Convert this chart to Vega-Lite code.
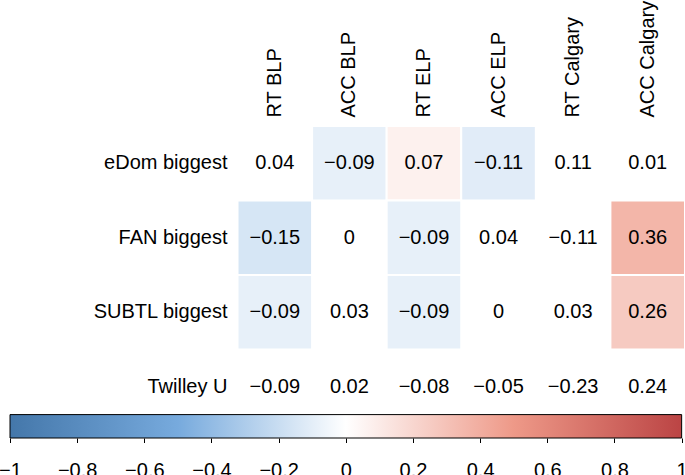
{
  "$schema": "https://vega.github.io/schema/vega-lite/v6.json",
  "autosize": {"type": "none"},
  "padding": {"left": 10, "top": 126, "right": 0, "bottom": 37},
  "width": 675,
  "height": 312,
  "background": "white",
  "config": {
    "view": {"stroke": null},
    "font": "Liberation Sans",
    "axis": {"labelFont": "Liberation Sans", "labelColor": "black", "labelFontSize": 20, "title": null, "grid": false}
  },
  "layer": [
    {
      "data": {
        "values": [
          {"row": "eDom biggest", "col": "RT BLP", "r": 0.04, "sig": false},
          {"row": "eDom biggest", "col": "ACC BLP", "r": -0.09, "sig": true},
          {"row": "eDom biggest", "col": "RT ELP", "r": 0.07, "sig": true},
          {"row": "eDom biggest", "col": "ACC ELP", "r": -0.11, "sig": true},
          {"row": "eDom biggest", "col": "RT Calgary", "r": 0.11, "sig": false},
          {"row": "eDom biggest", "col": "ACC Calgary", "r": 0.01, "sig": false},
          {"row": "FAN biggest", "col": "RT BLP", "r": -0.15, "sig": true},
          {"row": "FAN biggest", "col": "ACC BLP", "r": 0, "sig": false},
          {"row": "FAN biggest", "col": "RT ELP", "r": -0.09, "sig": true},
          {"row": "FAN biggest", "col": "ACC ELP", "r": 0.04, "sig": false},
          {"row": "FAN biggest", "col": "RT Calgary", "r": -0.11, "sig": false},
          {"row": "FAN biggest", "col": "ACC Calgary", "r": 0.36, "sig": true},
          {"row": "SUBTL biggest", "col": "RT BLP", "r": -0.09, "sig": true},
          {"row": "SUBTL biggest", "col": "ACC BLP", "r": 0.03, "sig": false},
          {"row": "SUBTL biggest", "col": "RT ELP", "r": -0.09, "sig": true},
          {"row": "SUBTL biggest", "col": "ACC ELP", "r": 0, "sig": false},
          {"row": "SUBTL biggest", "col": "RT Calgary", "r": 0.03, "sig": false},
          {"row": "SUBTL biggest", "col": "ACC Calgary", "r": 0.26, "sig": true},
          {"row": "Twilley U", "col": "RT BLP", "r": -0.09, "sig": false},
          {"row": "Twilley U", "col": "ACC BLP", "r": 0.02, "sig": false},
          {"row": "Twilley U", "col": "RT ELP", "r": -0.08, "sig": false},
          {"row": "Twilley U", "col": "ACC ELP", "r": -0.05, "sig": false},
          {"row": "Twilley U", "col": "RT Calgary", "r": -0.23, "sig": false},
          {"row": "Twilley U", "col": "ACC Calgary", "r": 0.24, "sig": false}
        ]
      },
      "encoding": {
        "x": {
          "field": "col", "type": "nominal",
          "scale": {"domain": ["RT BLP", "ACC BLP", "RT ELP", "ACC ELP", "RT Calgary", "ACC Calgary"], "paddingInner": 0, "paddingOuter": 0, "range": [227.5, 675]},
          "axis": {"orient": "top", "labelAngle": -90, "labelAlign": "left", "labelBaseline": "middle", "labelPadding": 9, "ticks": false, "domain": false, "labelLimit": 0}
        },
        "y": {
          "field": "row", "type": "nominal",
          "scale": {"domain": ["eDom biggest", "FAN biggest", "SUBTL biggest", "Twilley U"], "paddingInner": 0, "paddingOuter": 0.094, "align": 0},
          "axis": {"orient": "left", "offset": -225, "labelPadding": 8, "ticks": false, "domain": false, "labelLimit": 0}
        }
      },
      "layer": [
        {
          "transform": [{"filter": "datum.sig"}],
          "mark": {"type": "rect", "stroke": "white", "strokeWidth": 2},
          "encoding": {
            "color": {
              "field": "r", "type": "quantitative",
              "scale": {"domain": [-1, -0.5, 0, 0.5, 1], "range": ["#4477AA", "#77AADD", "#FFFFFF", "#EE9988", "#BB4444"], "interpolate": "rgb"},
              "legend": null
            }
          }
        },
        {
          "mark": {"type": "text", "fontSize": 20, "color": "black", "font": "Liberation Sans"},
          "encoding": {
            "text": {"field": "r", "type": "quantitative", "format": ".2~f"}
          }
        }
      ]
    },
    {
      "data": {"values": [{}]},
      "mark": {
        "type": "rect",
        "stroke": "black",
        "strokeWidth": 1,
        "color": {
          "gradient": "linear", "x1": 0, "y1": 0, "x2": 1, "y2": 0,
          "stops": [
            {"offset": 0, "color": "#4477AA"},
            {"offset": 0.25, "color": "#77AADD"},
            {"offset": 0.5, "color": "#FFFFFF"},
            {"offset": 0.75, "color": "#EE9988"},
            {"offset": 1, "color": "#BB4444"}
          ]
        }
      },
      "encoding": {
        "x": {
          "datum": -1, "type": "quantitative",
          "scale": {"domain": [-1, 1.01], "nice": false, "zero": false},
          "axis": {"orient": "bottom", "values": [-1, -0.8, -0.6, -0.4, -0.2, 0, 0.2, 0.4, 0.6, 0.8, 1], "format": ".1~f", "tickSize": 4.5, "tickColor": "black", "tickWidth": 1, "domain": false, "labelPadding": 18, "labelFlush": false, "labelOverlap": false, "labelBound": false}
        },
        "x2": {"datum": 1},
        "y": {"datum": 0, "type": "quantitative", "scale": {"domain": [0, 1], "nice": false, "zero": false}, "axis": null},
        "y2": {"datum": 0.075}
      }
    }
  ],
  "resolve": {"scale": {"x": "independent", "y": "independent"}, "axis": {"x": "independent", "y": "independent"}}
}
